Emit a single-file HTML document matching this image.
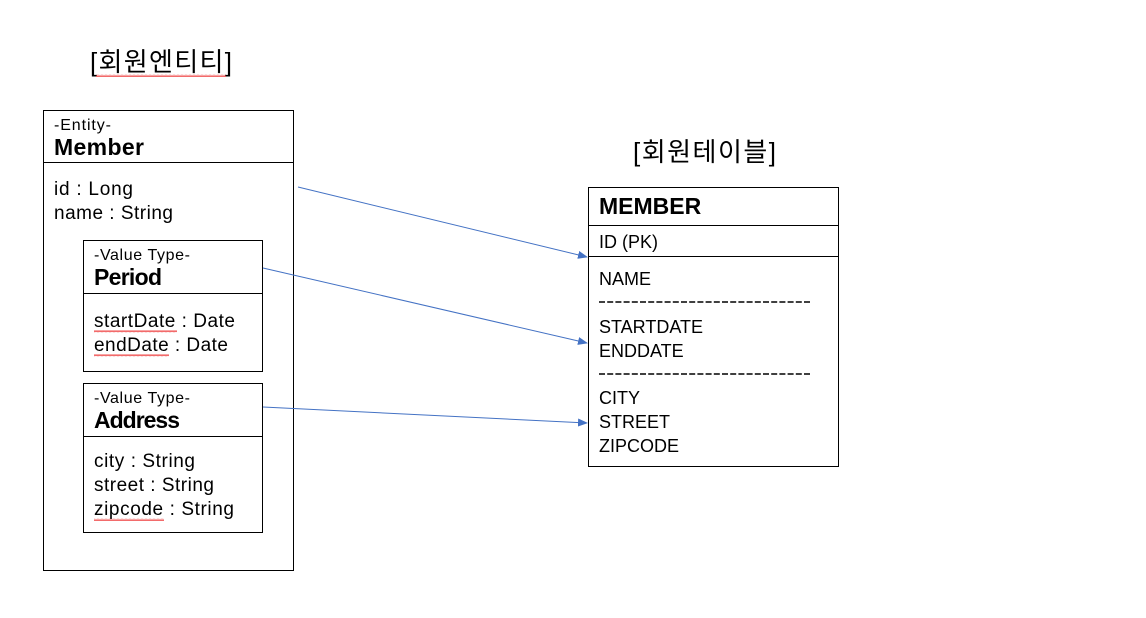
<!DOCTYPE html>
<html><head><meta charset="utf-8"><style>
html,body{margin:0;padding:0;background:#fff;width:1146px;height:618px;overflow:hidden}
svg{display:block}
text{font-family:"Liberation Sans","Noto Sans CJK KR",sans-serif;fill:#000}
.s{font-size:16px}
.b{font-size:23px;font-weight:bold}
.n{font-size:19px}
.c{font-size:18px}
.k{font-size:26px}
</style></head><body>
<svg width="1146" height="618" viewBox="0 0 1146 618" xmlns="http://www.w3.org/2000/svg">
<defs>
<marker id="a" markerWidth="10" markerHeight="8" refX="9" refY="4" orient="auto" markerUnits="userSpaceOnUse">
<path d="M0,0 L10,4 L0,8 z" fill="#4472C4"/>
</marker>
<pattern id="w" width="4" height="3" patternUnits="userSpaceOnUse">
<path d="M0,2 L1,0.5 L2,2 L3,0.5 L4,2" stroke="#e44" stroke-width="0.8" fill="none"/>
</pattern>
</defs>

<text x="90" y="71" class="k" textLength="142">[회원엔티티]</text>
<rect x="96" y="74" width="130" height="3" fill="url(#w)"/>

<text x="633" y="161" class="k" textLength="143">[회원테이블]</text>

<rect x="43.5" y="110.5" width="250" height="460" fill="none" stroke="#000"/>
<line x1="43.5" y1="162.5" x2="293.5" y2="162.5" stroke="#000"/>
<text x="54" y="130" class="s" textLength="57">-Entity-</text>
<text x="54" y="155" class="b" textLength="90">Member</text>
<text x="54" y="195" class="n" textLength="79">id : Long</text>
<text x="54" y="219" class="n" textLength="119">name : String</text>

<rect x="83.5" y="240.5" width="179" height="131" fill="none" stroke="#000"/>
<line x1="83.5" y1="293.5" x2="262.5" y2="293.5" stroke="#000"/>
<text x="94" y="260" class="s" textLength="96">-Value Type-</text>
<text x="94" y="285" class="b" textLength="68">Period</text>
<text x="94" y="327" class="n" textLength="141">startDate : Date</text>
<text x="94" y="351" class="n" textLength="134">endDate : Date</text>
<rect x="94" y="330" width="83" height="3" fill="url(#w)"/>
<rect x="94" y="354" width="75" height="3" fill="url(#w)"/>

<rect x="83.5" y="383.5" width="179" height="149" fill="none" stroke="#000"/>
<line x1="83.5" y1="436.5" x2="262.5" y2="436.5" stroke="#000"/>
<text x="94" y="403" class="s" textLength="96">-Value Type-</text>
<text x="94" y="428" class="b" textLength="86">Address</text>
<text x="94" y="467" class="n" textLength="101">city : String</text>
<text x="94" y="491" class="n" textLength="120">street : String</text>
<text x="94" y="515" class="n" textLength="140">zipcode : String</text>
<rect x="94" y="518" width="70" height="3" fill="url(#w)"/>

<rect x="588.5" y="187.5" width="250" height="279" fill="none" stroke="#000"/>
<line x1="588.5" y1="225.5" x2="838.5" y2="225.5" stroke="#000"/>
<line x1="588.5" y1="256.5" x2="838.5" y2="256.5" stroke="#000"/>
<text x="599" y="214" class="b">MEMBER</text>
<text x="599" y="248" class="c">ID (PK)</text>
<text x="599" y="285" class="c">NAME</text>
<line x1="599" y1="302" x2="810" y2="302" stroke="#000" stroke-width="1.4" stroke-dasharray="6,2.2"/>
<text x="599" y="333" class="c">STARTDATE</text>
<text x="599" y="357" class="c">ENDDATE</text>
<line x1="599" y1="374" x2="810" y2="374" stroke="#000" stroke-width="1.4" stroke-dasharray="6,2.2"/>
<text x="599" y="404" class="c">CITY</text>
<text x="599" y="428" class="c">STREET</text>
<text x="599" y="452" class="c">ZIPCODE</text>

<line x1="298" y1="187" x2="587" y2="257" stroke="#4472C4" stroke-width="1" marker-end="url(#a)"/>
<line x1="263" y1="268" x2="587" y2="343" stroke="#4472C4" stroke-width="1" marker-end="url(#a)"/>
<line x1="263" y1="407" x2="587" y2="423" stroke="#4472C4" stroke-width="1" marker-end="url(#a)"/>
</svg>
</body></html>
